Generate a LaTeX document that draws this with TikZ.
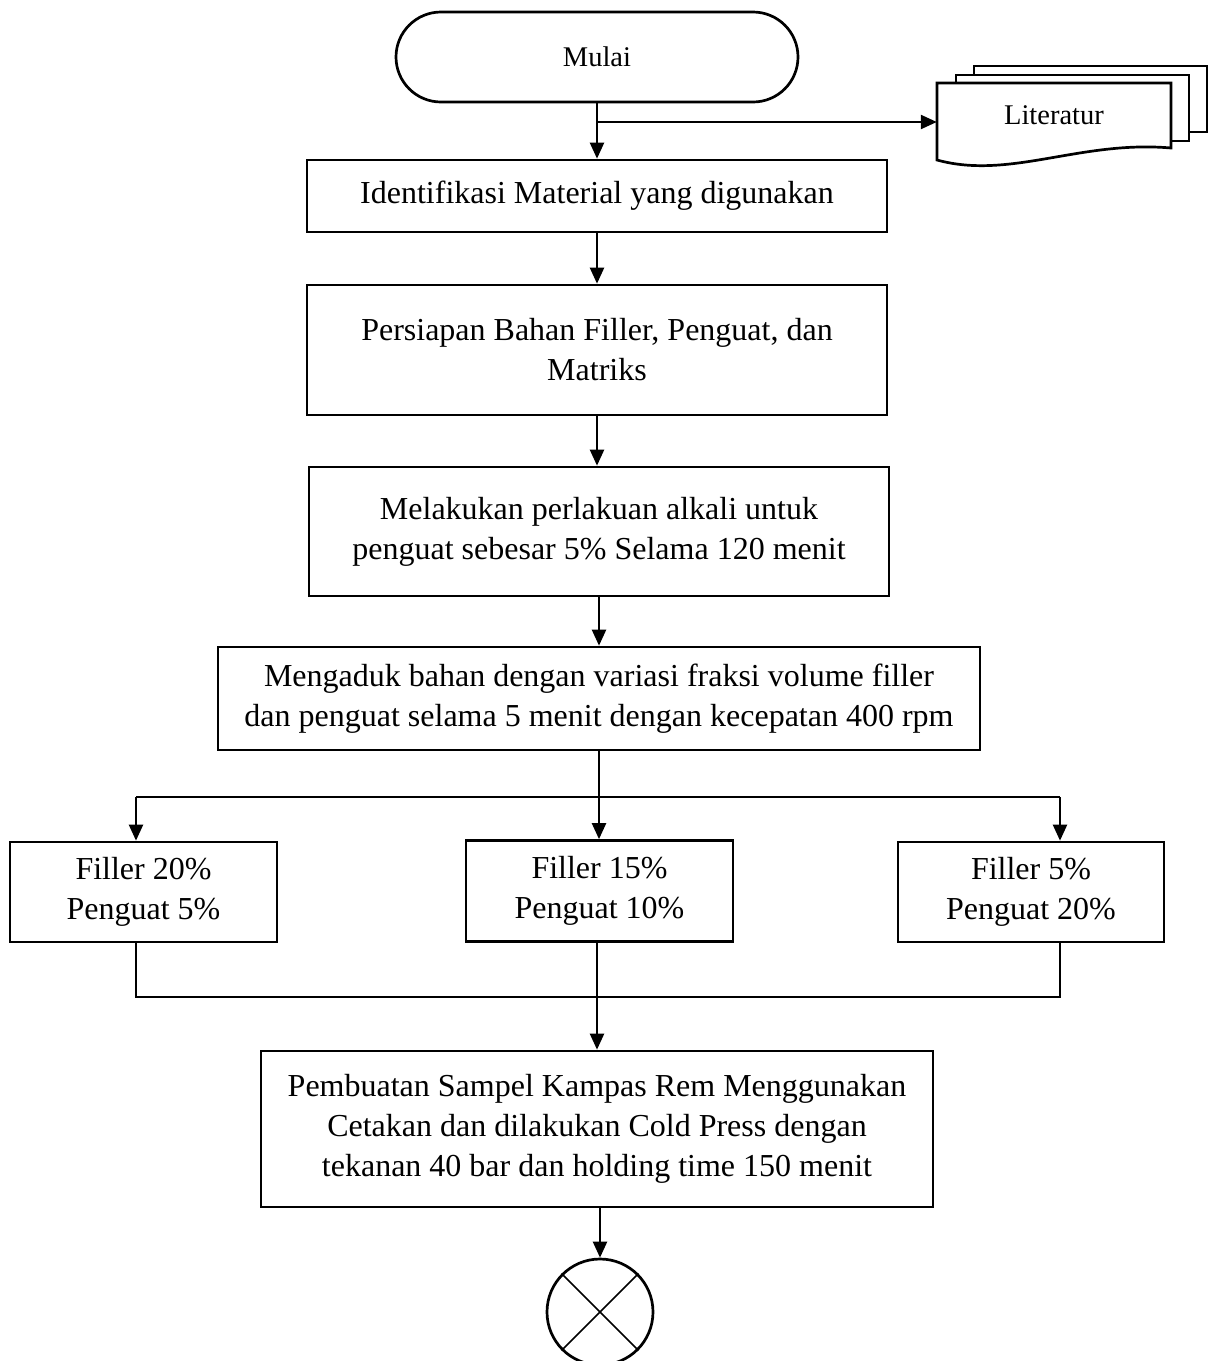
\documentclass[tikz,border=0pt]{standalone}
\usepackage{fontspec}
\setmainfont{Liberation Serif}
\usetikzlibrary{shapes.misc, arrows.meta, positioning, calc}

\begin{document}
\begin{tikzpicture}[x=1pt, y=-1pt,
  box/.style={draw, line width=2.7pt, align=center, inner sep=0pt, font=\fontsize{32}{40}\selectfont},
  smalltext/.style={font=\fontsize{28.5}{36}\selectfont},
  arr/.style={line width=2.3pt, -{Triangle[length=16pt,width=14pt]}},
  thinline/.style={line width=1.2pt},
  page/.style={draw, line width=2.7pt, fill=white}]
\useasboundingbox (0,0) rectangle (1214,1361);

% mulai
\node[box, smalltext, rounded rectangle, minimum width=402pt, minimum height=90pt] (mulai) at (597,57) {Mulai};

% literatur (three pages)
\draw[page] (974,66) rectangle (1207,132);
\draw[page] (956,75) rectangle (1189,141);
\draw[page] (937,83) -- (1171,83) -- (1171,148) .. controls (1080,140) and (1010,180) .. (937,160) -- cycle;
\node[smalltext, minimum width=234pt, minimum height=65pt, inner sep=0pt] (lit) at (1054,115.5) {Literatur};

% steps
\node[box, minimum width=580pt, minimum height=72pt] (ident) at (597,196) {Identifikasi Material yang digunakan};
\node[box, minimum width=580pt, minimum height=130pt] (siap) at (597,350) {Persiapan Bahan Filler, Penguat, dan\\Matriks};
\node[box, minimum width=580pt, minimum height=129pt] (alkali) at (599,531.5) {Melakukan perlakuan alkali untuk\\penguat sebesar 5\% Selama 120 menit};
\node[box, minimum width=762pt, minimum height=103pt] (aduk) at (599,698.5) {Mengaduk bahan dengan variasi fraksi volume filler\\dan penguat selama 5 menit dengan kecepatan 400 rpm};

% variasi
\node[box, minimum width=267pt, minimum height=100pt] (f20) at (143.5,892) {Filler 20\%\\Penguat 5\%};
\node[box, minimum width=267pt, minimum height=101pt] (f15) at (599.5,891) {Filler 15\%\\Penguat 10\%};
\node[box, minimum width=266pt, minimum height=100pt] (f5) at (1031,892) {Filler 5\%\\Penguat 20\%};

\node[box, minimum width=672pt, minimum height=156pt] (cetak) at (597,1129) {Pembuatan Sampel Kampas Rem Menggunakan\\Cetakan dan dilakukan Cold Press dengan\\tekanan 40 bar dan holding time 150 menit};

% connector
\node[draw, circle, line width=2.7pt, minimum size=106pt, inner sep=0pt] (selesai) at (600,1312) {};
\draw[line width=1.6pt] (selesai.north west) -- (selesai.south east);
\draw[line width=1.6pt] (selesai.north east) -- (selesai.south west);

% arrows
\coordinate (br) at (597,122);
\draw[arr] (mulai.south) -- (ident.north);
\draw[arr] (br) -- (br -| lit.west);
\draw[arr] (ident.south) -- (siap.north);
\draw[arr] (siap.south) -- (siap.south |- alkali.north);
\draw[arr] (alkali.south) -- (aduk.north);

\coordinate (s1) at (136,797);
\coordinate (s2) at (599,797);
\coordinate (s3) at (1060,797);
\draw[thinline] (aduk.south) -- (s2);
\draw[line width=1.6pt] (s1) -- (s3);
\draw[arr] (s1) -- (s1 |- f20.north);
\draw[arr] (s2) -- (s2 |- f15.north);
\draw[arr] (s3) -- (s3 |- f5.north);

\coordinate (j1) at (136,997);
\coordinate (j2) at (597,997);
\coordinate (j3) at (1060,997);
\draw[thinline] (j1 |- f20.south) -- (j1) -- (j3) -- (j3 |- f5.south);
\draw[thinline] (j2 |- f15.south) -- (j2);
\draw[arr] (j2) -- (cetak.north);
\draw[arr] (selesai.north |- cetak.south) -- (selesai.north);

\end{tikzpicture}
\end{document}
